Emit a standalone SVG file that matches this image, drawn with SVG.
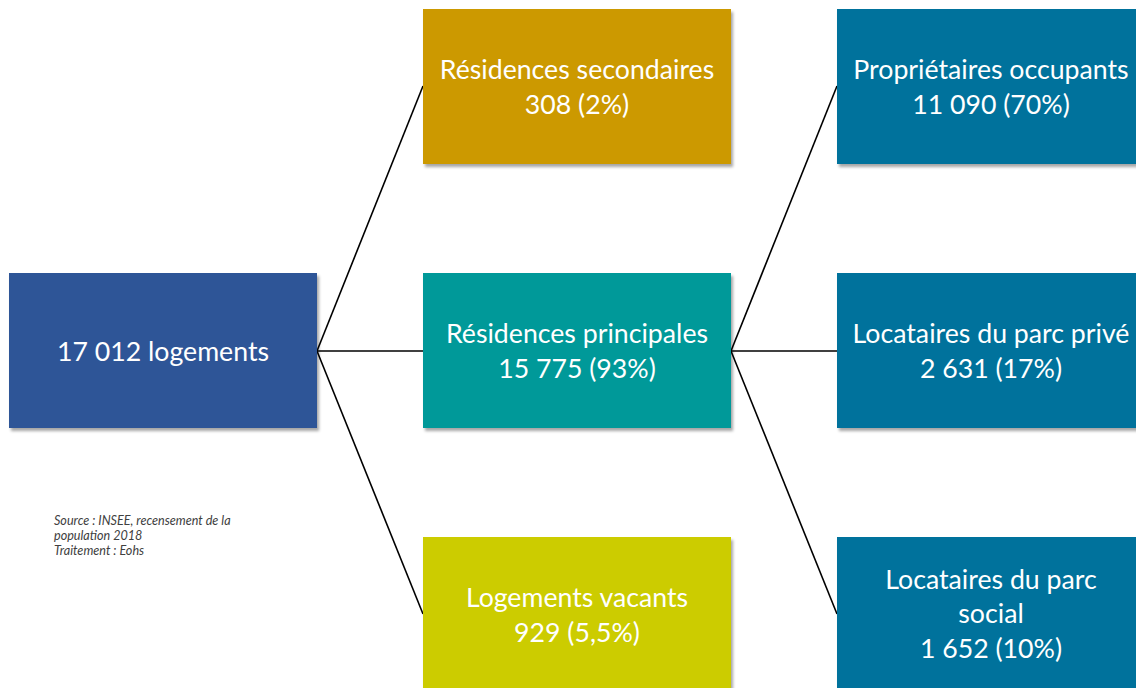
<svg xmlns="http://www.w3.org/2000/svg" width="1136" height="688" viewBox="0 0 1136 688">
<style>
.t{font-family:Lato,"Open Sans","Liberation Sans",sans-serif;font-size:26.7px;fill:#fff;text-anchor:middle}
.s{font-family:Lato,"Open Sans","Liberation Sans",sans-serif;font-size:12.6px;font-style:italic;fill:#404040}
.c{stroke:#000;stroke-width:1.6;fill:none}
</style>
<defs>
<filter id="sh" x="-5%" y="-5%" width="115%" height="120%">
<feDropShadow dx="2" dy="3" stdDeviation="1.5" flood-color="#000" flood-opacity="0.35"/>
</filter>
</defs>
<rect width="1136" height="688" fill="#fff"/>
<g id="connectors">
<line class="c" x1="317" y1="351" x2="423" y2="86"/>
<line class="c" x1="317" y1="351" x2="423" y2="351"/>
<line class="c" x1="317" y1="351" x2="423" y2="614"/>
<line class="c" x1="731" y1="351" x2="837" y2="86"/>
<line class="c" x1="731" y1="351" x2="837" y2="351"/>
<line class="c" x1="731" y1="351" x2="837" y2="614"/>
</g>
<g id="root">
<rect x="9" y="273" width="308" height="155" fill="#2F5597" filter="url(#sh)"/>
<text class="t" x="163" y="361">17 012 logements</text>
</g>
<g id="secondaires">
<rect x="423" y="9" width="308" height="155" fill="#CC9900" filter="url(#sh)"/>
<text class="t" x="577" y="79">Résidences secondaires</text>
<text class="t" x="577" y="114">308 (2%)</text>
</g>
<g id="principales">
<rect x="423" y="273" width="308" height="155" fill="#009999" filter="url(#sh)"/>
<text class="t" x="577" y="343">Résidences principales</text>
<text class="t" x="577" y="378">15 775 (93%)</text>
</g>
<g id="vacants">
<rect x="423" y="537" width="308" height="160" fill="#CCCC00" filter="url(#sh)"/>
<text class="t" x="577" y="607">Logements vacants</text>
<text class="t" x="577" y="642">929 (5,5%)</text>
</g>
<g id="proprietaires">
<rect x="837" y="9" width="308" height="155" fill="#00729C" filter="url(#sh)"/>
<text class="t" x="991" y="79">Propriétaires occupants</text>
<text class="t" x="991" y="114">11 090 (70%)</text>
</g>
<g id="prive">
<rect x="837" y="273" width="308" height="155" fill="#00729C" filter="url(#sh)"/>
<text class="t" x="991" y="343">Locataires du parc privé</text>
<text class="t" x="991" y="378">2 631 (17%)</text>
</g>
<g id="social">
<rect x="837" y="537" width="308" height="160" fill="#00729C" filter="url(#sh)"/>
<text class="t" x="991" y="589">Locataires du parc</text>
<text class="t" x="991" y="623">social</text>
<text class="t" x="991" y="658">1 652 (10%)</text>
</g>
<g id="source">
<text class="s" x="54" y="525">Source : INSEE, recensement de la</text>
<text class="s" x="54" y="540">population 2018</text>
<text class="s" x="54" y="555">Traitement : Eohs</text>
</g>
</svg>
